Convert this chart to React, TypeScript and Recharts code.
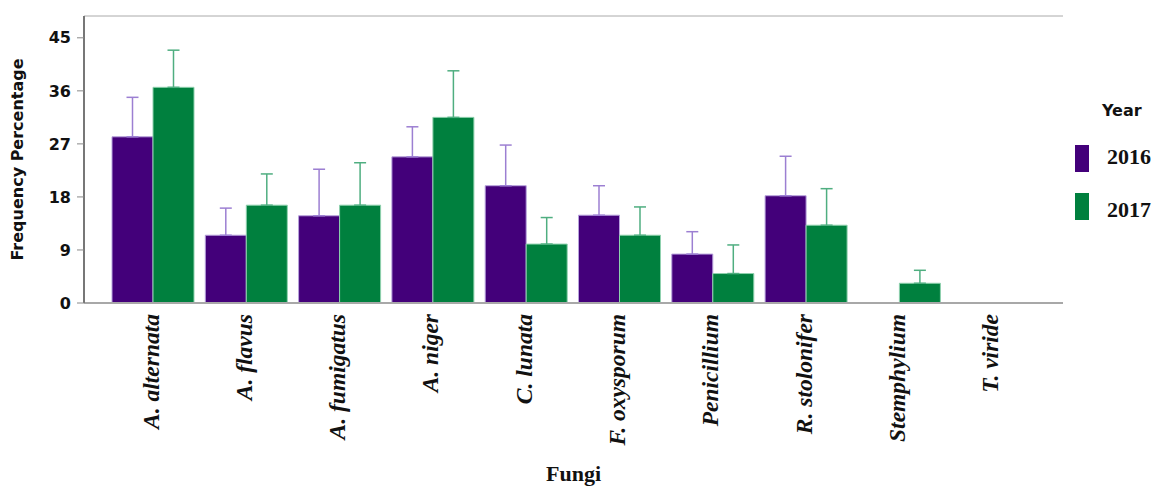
import React from "react"
import { BarChart, Bar, XAxis, YAxis, ErrorBar, Legend, ReferenceLine } from "recharts"

// Fungi frequency (%) by year
const categories = [
  "A. alternata",
  "A. flavus",
  "A. fumigatus",
  "A. niger",
  "C. lunata",
  "F. oxysporum",
  "Penicillium",
  "R. stolonifer",
  "Stemphylium",
  "T. viride",
]
const freq2016 = [28.2, 11.5, 14.8, 24.8, 19.9, 14.9, 8.3, 18.2, 0, 0]
const err2016 = [6.7, 4.6, 7.9, 5.1, 6.9, 5.0, 3.8, 6.7, 0, 0]
const freq2017 = [36.6, 16.6, 16.6, 31.5, 10.0, 11.5, 5.0, 13.2, 3.35, 0]
const err2017 = [6.3, 5.3, 7.2, 7.9, 4.5, 4.8, 4.85, 6.2, 2.2, 0]
const yTicks = [0, 9, 18, 27, 36, 45]
const yMax = 48.7

const PURPLE = "#43007a"
const GREEN = "#00803e"

// error bars only go upward
const data = categories.map((name, i) => ({
  name,
  y2016: freq2016[i],
  y2017: freq2017[i],
  e2016: err2016[i] > 0 ? [0, err2016[i]] : undefined,
  e2017: err2017[i] > 0 ? [0, err2017[i]] : undefined,
}))

const FungiTick = ({ x, y, payload }: any) => (
  <g transform={`translate(${x},${y})`}>
    <text
      transform="rotate(-90)"
      textAnchor="end"
      dy="0.25em"
      fontFamily="Liberation Serif"
      fontStyle="italic"
      fontWeight="bold"
      fontSize={23.5}
      fill="#111"
    >
      {payload.value}
    </text>
  </g>
)

// zero-height box so the legend takes no room from the plot
const YearLegend = () => (
  <div style={{ position: "relative", width: 96, height: 0 }}>
    <div
      style={{
        position: "absolute",
        left: 42,
        top: 11,
        fontFamily: "DejaVu Sans",
        fontWeight: "bold",
        fontSize: 16,
        color: "#111",
      }}
    >
      Year
    </div>
    {[
      { label: "2016", color: PURPLE, top: 55, textTop: 56 },
      { label: "2017", color: GREEN, top: 103, textTop: 109 },
    ].map((item) => (
      <React.Fragment key={item.label}>
        <div
          style={{
            position: "absolute",
            left: 15,
            top: item.top,
            width: 14,
            height: 27,
            background: item.color,
          }}
        />
        <div
          style={{
            position: "absolute",
            left: 47,
            top: item.textTop,
            fontFamily: "Liberation Serif",
            fontWeight: "bold",
            fontSize: 22,
            lineHeight: "22px",
            color: "#111",
          }}
        >
          {item.label}
        </div>
      </React.Fragment>
    ))}
  </div>
)

export default function App() {
  return (
    <div style={{ position: "absolute", left: 0, top: 0, background: "#fff" }}>
      <BarChart
        width={1156}
        height={489}
        data={data}
        margin={{ top: 16, right: 93, left: 0, bottom: 0 }}
        barCategoryGap={6}
        barGap={0}
      >
        <XAxis
          dataKey="name"
          height={186}
          interval={0}
          padding={{ left: 22, right: 24 }}
          tickLine={false}
          tickSize={0}
          tickMargin={11}
          tick={<FungiTick />}
          axisLine={{ stroke: "#a8a8a8", strokeWidth: 2 }}
          label={{
            value: "Fungi",
            position: "insideBottom",
            offset: 8,
            style: { fontFamily: "Liberation Serif", fontWeight: "bold", fontSize: 22, fill: "#111" },
          }}
        />
        <YAxis
          width={84}
          domain={[0, yMax]}
          ticks={yTicks}
          interval={0}
          tickSize={7}
          tickMargin={6}
          tickLine={{ stroke: "#888" }}
          axisLine={{ stroke: "#777", strokeWidth: 2 }}
          tick={{ fontFamily: "DejaVu Sans", fontWeight: "bold", fontSize: 16, fill: "#111" }}
          label={{
            value: "Frequency Percentage",
            angle: -90,
            position: "insideLeft",
            offset: 17,
            style: { textAnchor: "middle", fontFamily: "DejaVu Sans", fontWeight: "bold", fontSize: 16, fill: "#111" },
          }}
        />
        <YAxis
          yAxisId="right"
          orientation="right"
          width={0}
          tick={false}
          tickLine={false}
          axisLine={{ stroke: "#aaa" }}
        />
        <ReferenceLine y={yMax} stroke="#aaa" />
        <Legend
          layout="vertical"
          align="center"
          verticalAlign="top"
          content={<YearLegend />}
          wrapperStyle={{ left: 1060, top: 90, width: 96, height: 0 }}
        />
        <Bar dataKey="y2016" name="2016" fill={PURPLE} stroke="#b7a2dc" strokeWidth={1} isAnimationActive={false}>
          <ErrorBar dataKey="e2016" direction="y" width={6} stroke="#9c7fd2" strokeWidth={1.5} />
        </Bar>
        <Bar dataKey="y2017" name="2017" fill={GREEN} stroke="#8fd1ae" strokeWidth={1} isAnimationActive={false}>
          <ErrorBar dataKey="e2017" direction="y" width={6} stroke="#4fae80" strokeWidth={1.5} />
        </Bar>
      </BarChart>
    </div>
  )
}
